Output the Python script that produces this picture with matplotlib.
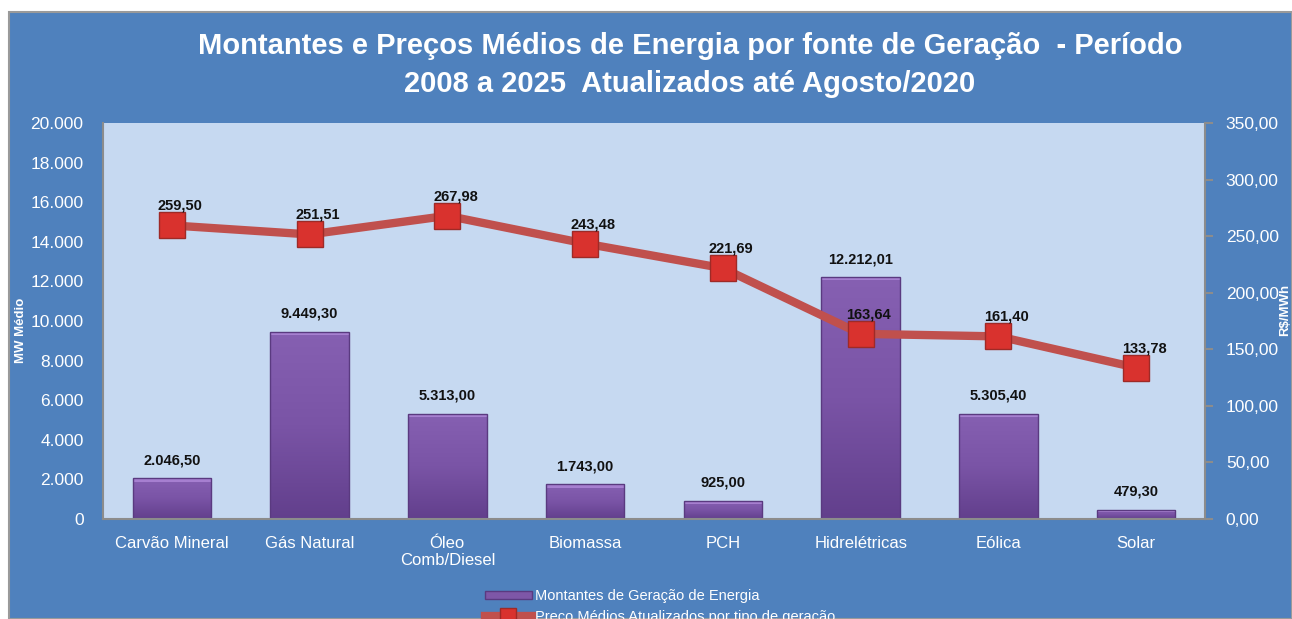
import matplotlib
matplotlib.use("Agg")
import numpy as np
import matplotlib.pyplot as plt
from matplotlib.patches import Rectangle
from matplotlib.lines import Line2D
from matplotlib.patches import Patch
from matplotlib.colors import LinearSegmentedColormap

categories = ["Carvão Mineral", "Gás Natural", "Óleo\nComb/Diesel", "Biomassa",
              "PCH", "Hidrelétricas", "Eólica", "Solar"]
montantes = [2046.50, 9449.30, 5313.00, 1743.00, 925.00, 12212.01, 5305.40, 479.30]
precos = [259.50, 251.51, 267.98, 243.48, 221.69, 163.64, 161.40, 133.78]
left_ticks = [0, 2000, 4000, 6000, 8000, 10000, 12000, 14000, 16000, 18000, 20000]
right_ticks = [0, 50, 100, 150, 200, 250, 300, 350]

title = "Montantes e Preços Médios de Energia por fonte de Geração  - Período\n2008 a 2025  Atualizados até Agosto/2020"

plt.rcParams["font.family"] = ["Liberation Sans", "DejaVu Sans"]

BG = "#4F81BD"
PLOT_BG = "#C6D9F1"
BAR = "#7E57A7"
BAR_EDGE = "#5A3A80"
LINE = "#C0504D"
MARK = "#D9322E"


def br(v, dec=2):
    s = f"{v:,.{dec}f}"
    return s.replace(",", "X").replace(".", ",").replace("X", ".")


W, H = 1292, 619
fig = plt.figure(figsize=(W / 100, H / 100), dpi=100)
fig.patch.set_facecolor("white")
bgrect = Rectangle((9 / W, 0), 1 - 9 / W, 1 - 12 / H, transform=fig.transFigure,
                   facecolor=BG, edgecolor="#9A9A9A", linewidth=1.5, zorder=-10)
fig.patches.append(bgrect)

ax = fig.add_axes([103 / W, 100 / H, 1102 / W, 396 / H])
ax.set_facecolor(PLOT_BG)
x = list(range(len(categories)))
bars = ax.bar(x, montantes, width=0.57, color=BAR, edgecolor=BAR_EDGE, linewidth=1, zorder=2)

# vertical gradient fill clipped to each bar
cmap = LinearSegmentedColormap.from_list("p", ["#623F8C", "#7A54A6", "#8660B2"])
grad = np.linspace(0, 1, 256).reshape(-1, 1)
for b in bars:
    x0, y0, w, h = b.get_x(), b.get_y(), b.get_width(), b.get_height()
    im = ax.imshow(grad, extent=(x0, x0 + w, y0, y0 + h), origin="lower", aspect="auto",
                   cmap=cmap, zorder=2.1)
    im.set_clip_path(b)
    top_h = min(160, h * 0.3)
    ax.add_patch(Rectangle((x0, y0 + h - top_h), w, top_h, facecolor="#AD86D6",
                           edgecolor="none", alpha=0.85, zorder=2.2, clip_path=b))
    b.set_facecolor("none")
    b.set_zorder(2.3)

for xi, v in zip(x, montantes):
    ax.annotate(br(v), (xi, v), xytext=(0, 8), textcoords="offset points",
                ha="center", va="bottom", fontsize=10.5, fontweight="bold", color="#111111", zorder=5)
ax.set_xlim(-0.5, len(categories) - 0.5)
ax.set_ylim(0, 20000)
ax.set_yticks(left_ticks)
ax.set_yticklabels([br(t, 0) for t in left_ticks])
ax.set_xticks(x)
ax.set_xticklabels(categories)
ax.tick_params(axis="y", colors="white", labelsize=12.5, length=0, pad=14)
ax.tick_params(axis="x", colors="white", labelsize=12, length=0, pad=12)
for sp in ["top", "right"]:
    ax.spines[sp].set_visible(False)
for sp in ["left", "bottom"]:
    ax.spines[sp].set_color("#8C8C8C")
    ax.spines[sp].set_linewidth(1.5)

ax2 = ax.twinx()
ax2.plot(x, precos, color=LINE, linewidth=6, marker="s", markersize=19,
         markerfacecolor=MARK, markeredgecolor="#9E2A27", markeredgewidth=1, zorder=4)
for xi, v in zip(x, precos):
    ax2.annotate(br(v), (xi, v), xytext=(6, 9), textcoords="offset points",
                 ha="center", va="bottom", fontsize=10.5, fontweight="bold", color="#111111", zorder=5)
ax2.set_ylim(0, 350)
ax2.set_yticks(right_ticks)
ax2.set_yticklabels([br(t) for t in right_ticks])
ax2.tick_params(axis="y", colors="#8C8C8C", labelcolor="white", labelsize=12.5, length=6,
                width=1.5, pad=9)
for sp in ["top", "left", "bottom"]:
    ax2.spines[sp].set_visible(False)
ax2.spines["right"].set_color("#8C8C8C")
ax2.spines["right"].set_linewidth(1.5)

fig.text(21 / W, 1 - 330 / H, "MW Médio", rotation=90, ha="center", va="center",
         color="white", fontsize=9.5, fontweight="bold")
fig.text(1285 / W, 1 - 310 / H, "R$/MWh", rotation=90, ha="center", va="center",
         color="white", fontsize=9.5, fontweight="bold")

fig.text(690 / W, 1 - 65 / H, title, ha="center", va="center", color="white",
         fontsize=21, fontweight="bold", linespacing=1.5)

handles = [Patch(facecolor=BAR, edgecolor=BAR_EDGE),
           Line2D([0], [0], color=LINE, linewidth=6, marker="s", markersize=12,
                  markerfacecolor=MARK, markeredgecolor="#9E2A27")]
labels = ["Montantes de Geração de Energia", "Preço Médios Atualizados por tipo de geração"]
fig.legend(handles, labels, loc="upper center", bbox_to_anchor=(660 / W, 1 - 582 / H),
           frameon=False, fontsize=10.5, labelcolor="white", handlelength=3.2,
           handleheight=0.5, handletextpad=0.2, labelspacing=0.45, borderpad=0)

fig.savefig("out.png", dpi=100, facecolor=fig.get_facecolor())
